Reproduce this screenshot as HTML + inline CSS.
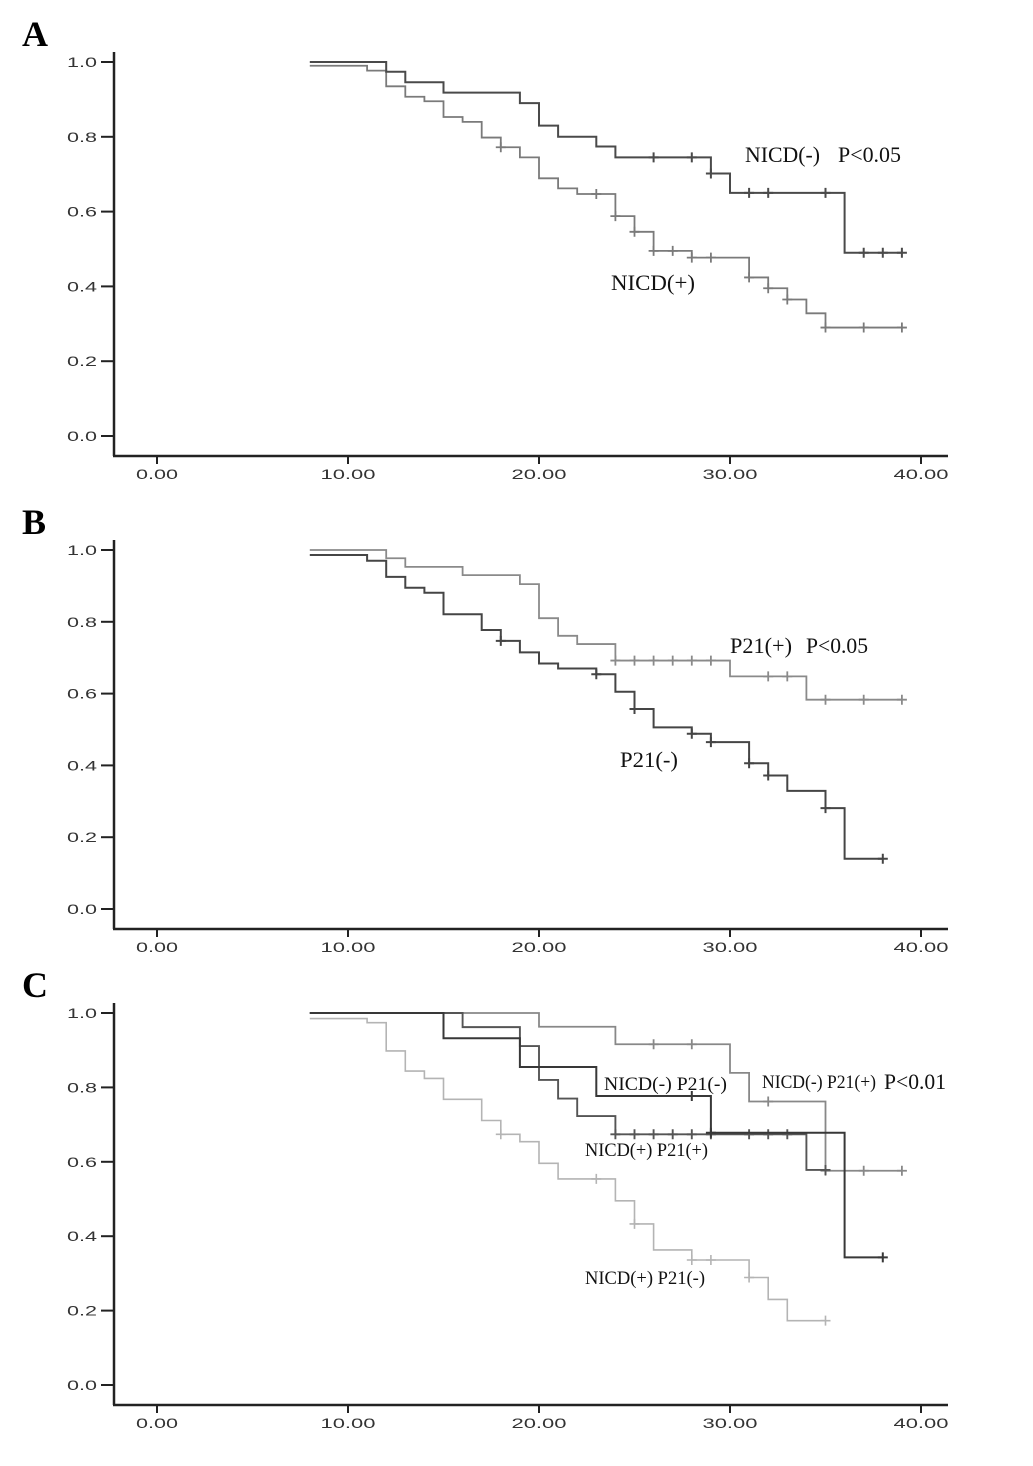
<!DOCTYPE html>
<html><head><meta charset="utf-8"><style>
html,body{margin:0;padding:0;background:#fff;}
svg{display:block;}
.tick{font-family:"Liberation Sans",sans-serif;font-size:13.5px;fill:#333;}
.lab{font-family:"Liberation Serif",serif;font-size:22px;fill:#111;}
.labs{font-family:"Liberation Serif",serif;font-size:19px;fill:#111;}
.pl{font-family:"Liberation Serif",serif;font-size:36px;font-weight:bold;fill:#000;}
</style></head><body>
<svg id="chart" width="1033" height="1466" viewBox="0 0 1033 1466"></svg>
<script>
// X ticks (months) and Y ticks
const xTicks=[0,10,20,30,40];
const xTickLabels=["0.00","10.00","20.00","30.00","40.00"];
const yTicks=[0,0.2,0.4,0.6,0.8,1.0];
const yTickLabels=["0.0","0.2","0.4","0.6","0.8","1.0"];

// Panel A: step events [time, survival], censor times
const aNegSteps=[[8,1.0],[12,0.974],[13,0.946],[15,0.918],[19,0.89],[20,0.83],[21,0.80],[23,0.774],[24,0.745],[29,0.702],[30,0.65],[36,0.49]];
const aNegCens=[26,28,29,31,32,35,37,38,39];
const aNegEnd=39;
const aPosSteps=[[8,0.99],[11,0.977],[12,0.935],[13,0.907],[14,0.895],[15,0.853],[16,0.84],[17,0.798],[18,0.772],[19,0.745],[20,0.689],[21,0.662],[22,0.647],[24,0.588],[25,0.546],[26,0.495],[28,0.477],[31,0.424],[32,0.395],[33,0.365],[34,0.328],[35,0.29]];
const aPosCens=[18,23,24,25,26,27,28,29,31,32,33,35,37,39];
const aPosEnd=39;

// Panel B
const bPosSteps=[[8,1.0],[12,0.977],[13,0.953],[16,0.93],[19,0.905],[20,0.81],[21,0.761],[22,0.738],[24,0.692],[30,0.648],[34,0.583]];
const bPosCens=[24,25,26,27,28,29,32,33,35,37,39];
const bPosEnd=39;
const bNegSteps=[[8,0.986],[11,0.97],[12,0.925],[13,0.895],[14,0.881],[15,0.821],[17,0.777],[18,0.747],[19,0.715],[20,0.684],[21,0.67],[23,0.654],[24,0.605],[25,0.557],[26,0.506],[28,0.488],[29,0.465],[31,0.406],[32,0.372],[33,0.329],[35,0.281],[36,0.14]];
const bNegCens=[18,23,25,28,29,31,32,35,38];
const bNegEnd=38;

// Panel C
const cNegPosSteps=[[8,1.0],[20,0.963],[24,0.916],[30,0.839],[31,0.762],[35,0.576]];
const cNegPosCens=[26,28,32,35,37,39];
const cNegPosEnd=39;
const cNegNegSteps=[[8,1.0],[15,0.932],[19,0.855],[23,0.777],[29,0.678],[36,0.343]];
const cNegNegCens=[28,29,38];
const cNegNegEnd=38;
const cPosPosSteps=[[8,1.0],[16,0.962],[19,0.911],[20,0.82],[21,0.77],[22,0.723],[24,0.674],[34,0.578]];
const cPosPosCens=[24,25,26,27,28,29,31,32,33,35];
const cPosPosEnd=35;
const cPosNegSteps=[[8,0.985],[11,0.974],[12,0.898],[13,0.844],[14,0.824],[15,0.768],[17,0.711],[18,0.674],[19,0.654],[20,0.596],[21,0.554],[24,0.495],[25,0.433],[26,0.363],[28,0.336],[31,0.289],[32,0.23],[33,0.173]];
const cPosNegCens=[18,23,25,28,29,31,35];
const cPosNegEnd=35;

const NS="http://www.w3.org/2000/svg";
const svg=document.getElementById('chart');
function mk(tag,attrs,parent){const e=document.createElementNS(NS,tag);for(const k in attrs)e.setAttribute(k,attrs[k]);(parent||svg).appendChild(e);return e;}

const panels=[
 {id:'a',label:'A',y1:62,y0:436,axisY:456,top:55},
 {id:'b',label:'B',y1:550,y0:909,axisY:929,top:543},
 {id:'c',label:'C',y1:1013,y0:1385,axisY:1405,top:1006}
];
function xs(t){return 157+19.1*t;}

function drawAxes(p){
 const g=mk('g',{});
 
 
 const ys=s=>p.y0-(p.y0-p.y1)*s;
 const pl=mk('text',{x:22,y:p.top-9,class:'pl'},g);
 pl.textContent=p.label;
 
 
 const ya=mk('line',{x1:114,y1:p.top-3,x2:114,y2:p.axisY,stroke:'#222','stroke-width':2.5},g);
 
 
 const xa=mk('line',{x1:113,y1:p.axisY,x2:948,y2:p.axisY,stroke:'#222','stroke-width':2.5},g);
 
 
 yTicks.forEach((v,i)=>{
  const y=ys(v);
  mk('line',{x1:101,y1:y,x2:114,y2:y,stroke:'#222','stroke-width':2},g);
  const t=mk('text',{x:97,y:y+5,class:'tick','text-anchor':'end',textLength:30,lengthAdjust:'spacingAndGlyphs'},g);
  t.textContent=yTickLabels[i];
  
  
 });
 xTicks.forEach((v,i)=>{
  const x=xs(v);
  mk('line',{x1:x,y1:p.axisY,x2:x,y2:p.axisY+8,stroke:'#222','stroke-width':2},g);
  const L=xTickLabels[i].length>4?55:42;
  const t=mk('text',{x:x-L/2,y:p.axisY+23,class:'tick',textLength:L,lengthAdjust:'spacingAndGlyphs'},g);
  t.textContent=xTickLabels[i];
  
  
 });
 return {g,ys};
}
function stepVal(steps,t){let v=steps[0][1];for(const s of steps){if(s[0]<=t)v=s[1];}return v;}
function drawCurve(ctx,steps,cens,end,color,w,name){
 const {g,ys}=ctx;
 let d='M'+xs(steps[0][0])+','+ys(steps[0][1]);
 for(let i=1;i<steps.length;i++){
  d+=' H'+xs(steps[i][0])+' V'+ys(steps[i][1]);
 }
 d+=' H'+xs(end);
 const p=mk('path',{d:d,fill:'none',stroke:color,'stroke-width':w},g);
 
 
 cens.forEach(t=>{
  const x=xs(t),y=ys(stepVal(steps,t));
  const c=mk('path',{d:'M'+x+','+(y-5)+' V'+(y+5)+' M'+(x-5)+','+y+' H'+(x+5),stroke:color,'stroke-width':w,fill:'none'},g);
  
  
 });
}
function label(ctx,x,y,w,txt,cls,name){
 const t=mk('text',{x:x,y:y,class:cls,textLength:w,lengthAdjust:'spacingAndGlyphs'},ctx.g);
 t.textContent=txt;
 
 
}
const A=drawAxes(panels[0]);
drawCurve(A,aPosSteps,aPosCens,aPosEnd,'#7a7a7a',1.8,'nicd-pos');
drawCurve(A,aNegSteps,aNegCens,aNegEnd,'#4a4a4a',2,'nicd-neg');
label(A,745,162,75,'NICD(-)','lab','nicd-neg-label');
label(A,838,162,63,'P<0.05','lab','p-value-a');
label(A,611,290,84,'NICD(+)','lab','nicd-pos-label');

const B=drawAxes(panels[1]);
drawCurve(B,bPosSteps,bPosCens,bPosEnd,'#8a8a8a',1.8,'p21-pos');
drawCurve(B,bNegSteps,bNegCens,bNegEnd,'#454545',2,'p21-neg');
label(B,730,653,62,'P21(+)','lab','p21-pos-label');
label(B,806,653,62,'P<0.05','lab','p-value-b');
label(B,620,767,58,'P21(-)','lab','p21-neg-label');

const C=drawAxes(panels[2]);
drawCurve(C,cPosNegSteps,cPosNegCens,cPosNegEnd,'#b4b4b4',1.6,'nicd-pos-p21-neg');
drawCurve(C,cNegPosSteps,cNegPosCens,cNegPosEnd,'#888888',1.8,'nicd-neg-p21-pos');
drawCurve(C,cPosPosSteps,cPosPosCens,cPosPosEnd,'#555555',1.9,'nicd-pos-p21-pos');
drawCurve(C,cNegNegSteps,cNegNegCens,cNegNegEnd,'#383838',2,'nicd-neg-p21-neg');
label(C,604,1090,123,'NICD(-) P21(-)','labs','nicd-neg-p21-neg-label');
label(C,762,1088,114,'NICD(-) P21(+)','labs','nicd-neg-p21-pos-label');
label(C,884,1089,62,'P<0.01','lab','p-value-c');
label(C,585,1156,123,'NICD(+) P21(+)','labs','nicd-pos-p21-pos-label');
label(C,585,1284,120,'NICD(+) P21(-)','labs','nicd-pos-p21-neg-label');
</script>
</body></html>
